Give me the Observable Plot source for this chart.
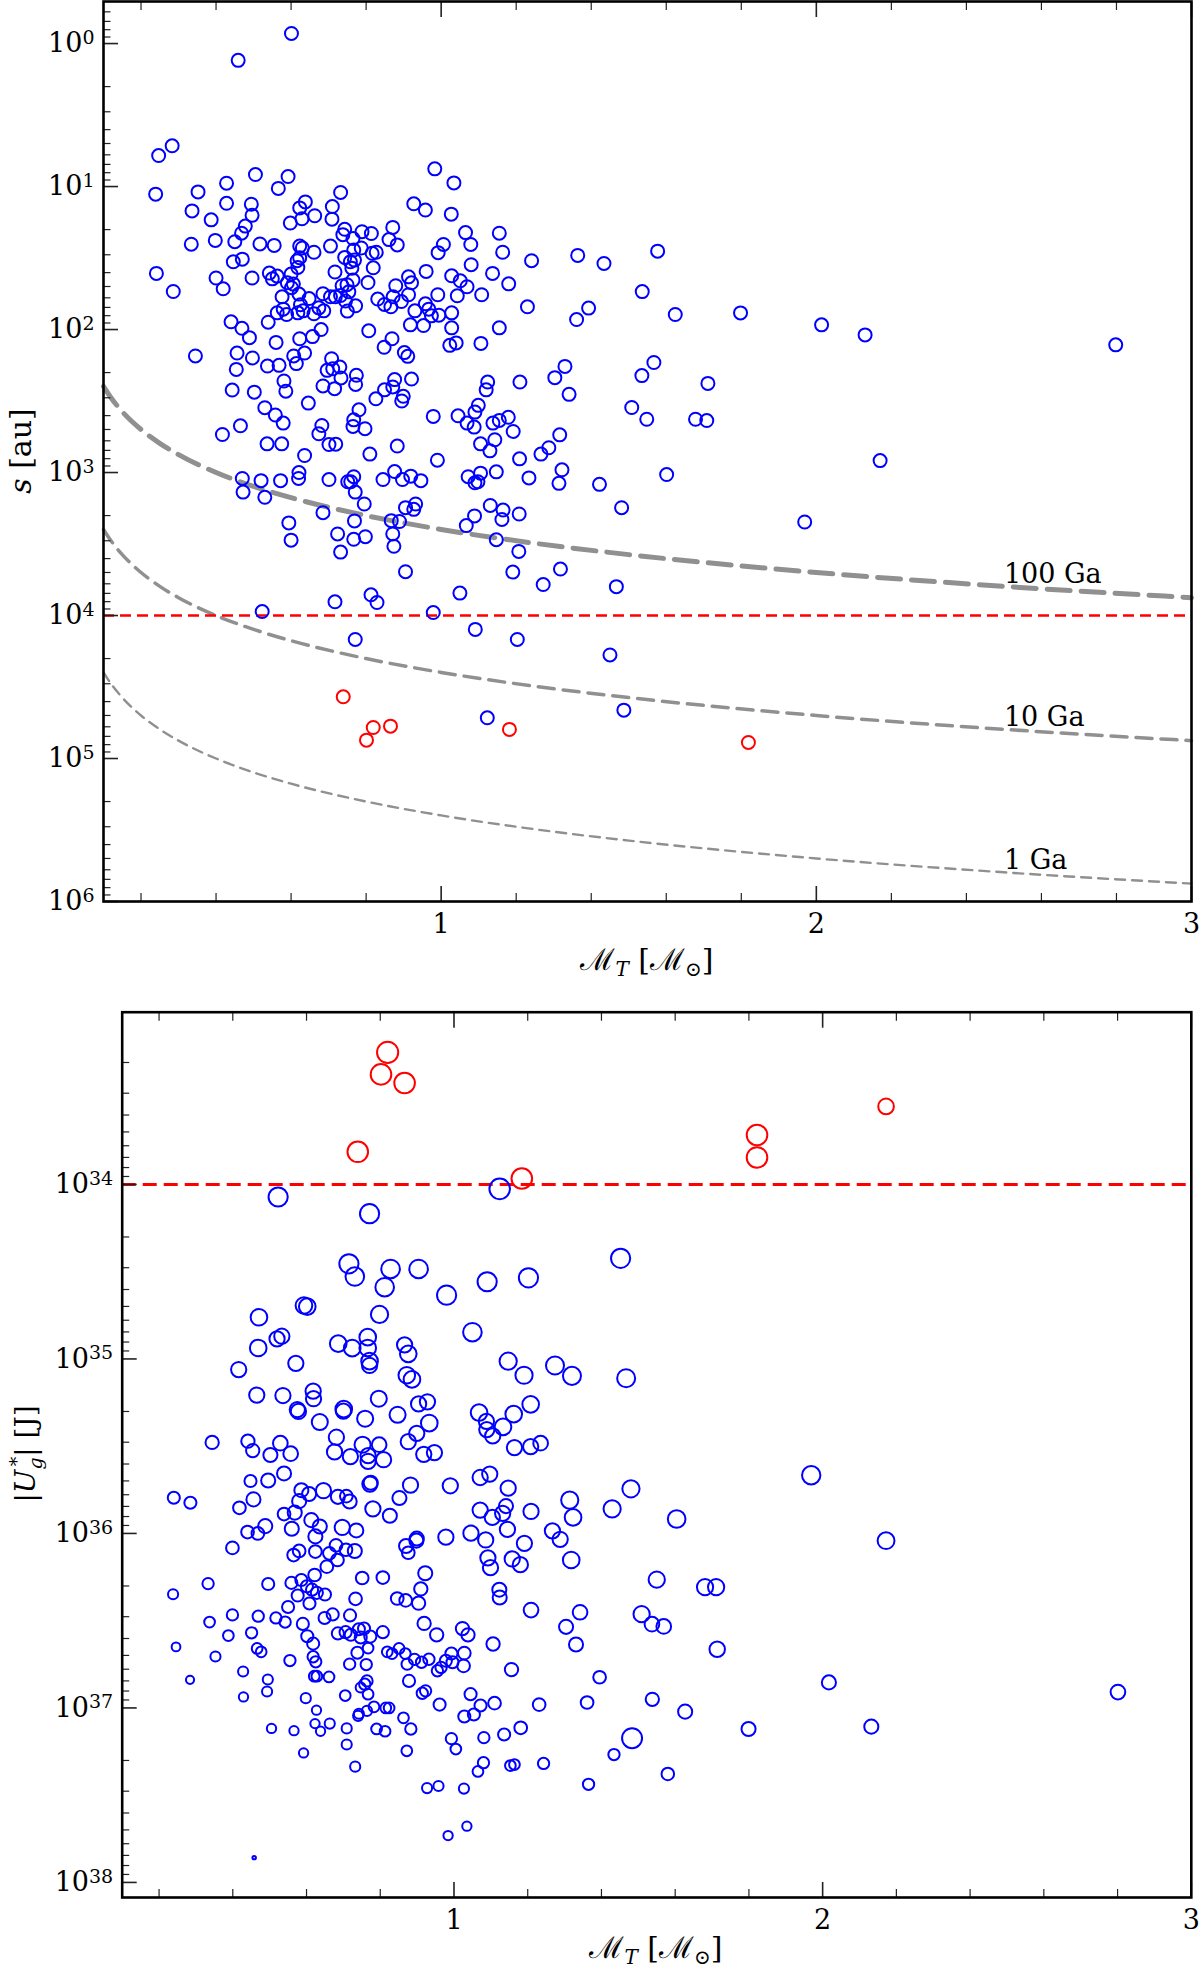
<!DOCTYPE html>
<html>
<head>
<meta charset="utf-8">
<script src="https://cdn.jsdelivr.net/npm/d3@7"></script>
<script src="https://cdn.jsdelivr.net/npm/@observablehq/plot@0.6"></script>
<style>
  body { margin: 0; background: white; width: 1200px; }
  #top, #bottom { width: 1200px; }
</style>
</head>
<body>
<div id="top"></div>
<div id="bottom"></div>
<script>
// ---- top panel: projected separation vs total mass ----
const topBlueMass = [
  0.601,0.459,0.283,0.247,0.239,0.505,0.592,0.983,1.034,0.428,
  0.566,0.352,0.732,0.428,0.494,0.638,0.623,0.927,0.958,0.710,
  0.336,0.496,0.663,1.027,0.387,0.598,0.629,0.709,0.478,0.468,
  0.743,0.738,0.789,0.814,0.871,0.861,0.883,1.065,1.155,0.334,
  0.398,0.450,0.517,0.555,0.623,0.630,0.705,0.765,1.006,0.992,
  1.079,1.164,0.661,0.743,0.767,0.787,0.816,0.827,0.446,0.470,
  0.623,0.616,0.758,0.769,1.241,1.364,1.434,0.618,0.762,0.819,
  1.080,0.241,0.400,0.496,0.542,0.550,0.563,0.600,0.717,0.960,
  1.028,1.051,1.137,1.180,0.419,0.286,0.590,0.606,0.601,0.736,
  0.749,0.765,0.805,0.879,0.913,0.921,1.069,0.576,0.621,0.648,
  0.685,0.705,0.718,0.732,0.754,0.831,0.872,0.894,0.913,0.991,
  1.043,1.108,1.230,1.393,0.579,0.563,0.588,0.625,0.618,0.632,
  0.661,0.674,0.687,0.745,0.750,0.772,0.849,0.866,0.930,0.958,
  0.967,0.974,0.994,1.028,1.361,0.440,0.539,0.469,0.489,0.680,
  0.657,0.623,0.807,0.918,0.953,1.028,1.155,0.560,0.869,0.848,
  1.023,1.040,1.106,0.345,0.456,0.497,0.607,0.636,0.614,0.708,
  0.537,0.568,0.696,0.711,0.730,0.902,0.911,1.330,0.454,0.733,
  0.774,0.581,0.876,0.921,1.124,1.210,1.303,0.772,0.586,0.685,
  0.716,0.871,0.849,1.120,0.443,0.502,1.341,0.899,0.895,0.826,
  0.646,0.530,0.781,0.558,0.579,0.767,0.765,0.797,0.682,0.674,
  0.465,0.417,0.979,1.045,1.069,1.088,1.099,1.090,1.138,1.155,
  1.179,1.192,1.316,0.536,0.575,0.701,0.719,0.883,0.810,0.636,
  1.105,1.143,1.130,1.287,1.266,0.990,1.209,0.470,0.520,0.572,
  0.621,0.620,0.472,0.530,0.701,0.751,0.767,0.759,0.771,0.845,
  0.876,0.897,0.919,0.946,1.072,1.090,1.105,1.098,1.147,1.234,
  1.314,1.322,1.422,0.795,0.685,0.905,0.927,0.932,1.131,1.165,
  1.162,1.089,1.067,1.208,0.594,0.600,0.769,0.867,0.889,0.871,
  0.874,0.724,0.767,0.798,0.732,1.147,1.207,0.905,1.191,1.318,
  1.272,1.050,0.717,0.813,0.829,0.523,0.979,1.091,0.771,1.203,
  1.577,1.536,1.624,1.798,2.014,2.130,2.798,1.567,1.535,1.711,
  1.508,1.548,1.678,1.708,1.601,2.170,1.481,1.969,1.467,1.450,1.487,
  1.123
];
const topBlueSep = [
  0.85,1.31,5.19,6.07,11.3,8.24,8.51,7.52,9.43,9.48,
  10.3,10.9,11.0,13.1,13.3,12.8,14.1,13.2,14.6,13.8,
  14.8,15.9,16.0,15.6,17.1,18.0,16.8,16.9,18.9,21.2,
  19.9,21.7,20.7,21.3,19.3,23.5,25.6,21.0,21.2,25.3,
  23.8,24.3,25.2,25.8,26.1,26.9,26.1,23.1,25.4,29.0,
  25.4,28.8,28.8,31.3,27.8,26.9,29.3,28.8,33.6,32.2,
  31.5,33.0,33.6,32.7,33.0,30.3,34.5,36.8,37.2,37.0,
  35.2,40.5,43.6,43.6,40.3,44.2,42.3,40.9,39.6,39.2,
  42.1,45.6,40.5,47.9,51.9,54.2,47.1,48.1,51.0,49.4,
  48.6,45.1,46.9,49.4,42.8,47.1,50.2,59.0,56.5,60.7,
  56.2,59.0,59.0,57.8,54.5,61.2,59.0,63.7,57.1,57.1,
  58.1,57.1,69.3,70.8,72.0,76.4,78.5,67.1,76.4,74.0,
  77.6,70.5,74.0,63.2,74.3,68.2,66.8,69.3,74.0,66.1,
  72.0,80.2,79.4,76.4,85.1,88.3,88.9,98,114,100,
  112,116,102,92.7,93.8,97.3,97.3,123,116,133,
  129,124,125,153,146,158,153,146,173,160,
  180,178,193,188,183,145,154,181,190,218,
  209,229,224,222,233,233,217,242,270,248,
  259,252,264,264,265,274,284,293,316,305,
  327,352,364,396,451,428,476,494,469,536,
  471,542,405,401,451,481,339,378,451,432,
  411,516,545,630,630,637,633,653,743,760,
  630,590,705,671,743,820,802,1100,1140,1140,
  1000,1100,1370,1490,1120,1160,1070,1160,1370,1120,
  984,1120,1060,1140,1070,1180,1010,1160,989,1090,
  1190,957,1210,1660,1910,1760,1810,1660,1700,1830,
  2130,2010,2350,1950,2250,2970,2180,2170,2200,2690,
  3280,2690,2930,2810,3600,2950,3560,4940,4970,4730,
  6070,6970,8020,7160,8110,9380,9530,12500,14700,14700,
  28.3,54.3,78.5,76.5,92.7,109,128,170,210,238,
  351,424,424,433,1033,825,1762,2218,6280,18880,45900,
  51900
];
const topRedMass = [0.739, 0.801, 0.819, 0.865, 1.182, 1.819];
const topRedSep = [37000, 74400, 60700, 59400, 62600, 77200];

// dissipation-time curves
const curveMass = [0.1, 0.12, 0.15, 0.2, 0.25, 0.3, 0.4, 0.5, 0.6, 0.8, 1, 1.25, 1.5, 2, 2.5, 3];
const sep100Ga = [250, 300, 375, 500, 625, 750, 1000, 1250, 1500, 2000, 2500, 3125, 3750, 5000, 6250, 7500];
const sep10Ga = [2500, 3000, 3750, 5000, 6250, 7500, 10000, 12500, 15000, 20000, 25000, 31250, 37500, 50000, 62500, 75000];
const sep1Ga = [25000, 30000, 37500, 50000, 62500, 75000, 100000, 125000, 150000, 200000, 250000, 312500, 375000, 500000, 625000, 750000];
const gaLabels = ["100 Ga", "10 Ga", "1 Ga"];
const gaLabelMass = [2.5, 2.5, 2.5];
const gaLabelSep = [5900, 59000, 590000];
const sepLimit = 1e4;

// ---- bottom panel: binding energy vs total mass ----
const botBlueMass = [
  0.523,1.124,0.771,0.715,0.731,0.828,0.904,0.812,0.980,1.090,
  1.202,1.452,0.593,0.602,0.471,0.798,0.520,0.533,0.469,1.050,
  0.686,0.724,0.766,0.766,0.866,0.876,0.771,0.771,0.571,0.416,
  1.147,1.190,1.274,1.320,1.467,0.872,0.886,0.465,0.536,0.618,
  0.619,0.575,0.578,0.701,0.700,0.796,0.759,0.636,0.847,0.904,
  0.928,0.933,1.068,1.088,1.089,1.105,1.133,1.162,1.208,0.344,
  0.441,0.454,0.502,0.529,0.557,0.681,0.676,0.719,0.752,0.767,
  0.767,0.797,0.809,0.876,0.899,0.918,0.947,1.164,1.208,1.235,
  0.240,0.285,0.448,0.496,0.539,0.456,0.418,0.586,0.607,0.580,
  0.646,0.685,0.708,0.717,0.772,0.774,0.882,0.852,0.780,0.826,
  0.990,1.071,1.097,1.147,1.071,1.104,1.132,1.141,1.209,1.314,
  1.323,1.429,1.480,0.539,0.568,0.560,0.613,0.636,0.624,0.488,
  0.440,0.468,0.697,0.735,1.145,1.046,0.978,1.086,0.399,0.565,
  0.580,0.624,0.662,0.680,0.707,0.731,0.684,0.655,0.870,0.876,
  0.898,0.899,1.191,1.267,1.288,1.092,1.099,1.158,1.180,1.318,
  0.622,0.751,0.807,0.922,0.333,0.496,0.559,0.586,0.601,0.615,
  0.628,0.650,0.576,0.608,0.238,0.733,0.846,0.869,0.910,0.904,
  1.123,1.124,1.209,1.342,0.399,0.337,0.469,0.517,0.542,0.550,
  0.649,0.671,0.718,0.590,0.388,0.451,0.602,0.618,0.685,0.706,
  0.720,0.742,0.756,0.747,0.773,0.807,0.919,0.953,1.023,1.038,
  1.106,1.304,1.331,0.246,0.353,0.466,0.477,0.555,0.618,0.625,
  0.738,0.767,0.819,0.832,0.851,0.868,0.873,0.893,0.912,0.932,
  0.955,0.965,0.978,0.993,0.996,1.028,1.026,1.156,1.395,0.717,
  0.762,0.428,0.621,0.628,0.661,0.495,0.284,0.764,0.758,0.747,
  0.767,0.878,0.914,0.923,0.493,0.429,0.598,0.705,0.961,1.045,
  1.110,1.072,1.231,1.361,0.627,0.740,0.742,0.764,0.783,0.815,
  0.824,0.863,1.028,1.054,0.505,0.566,0.623,0.638,0.663,0.709,
  0.790,0.813,0.883,0.993,1.005,1.081,1.136,1.181,1.483,0.592,
  0.709,0.872,0.732,1.080,1.065,1.153,1.164,1.243,1.434,0.927,
  0.958,1.027,1.365,1.035,0.984,0.458,
  1.969,1.604,2.172,1.550,1.681,1.711,1.509,1.537,1.569,1.714,
  2.017,2.801,1.538,1.627,1.799,2.132,1.580
];
const botBlueU = [
  1.18e34,1.06e34,1.47e34,2.85e34,3.37e34,3.05e34,3.05e34,3.88e34,4.31e34,3.61e34,
  3.43e34,2.65e34,4.94e34,5.01e34,5.77e34,5.56e34,7.67e34,7.41e34,8.65e34,7.03e34,
  8.17e34,8.67e34,7.50e34,8.65e34,8.30e34,9.35e34,1.03e35,1.09e35,1.06e35,1.15e35,
  1.03e35,1.24e35,1.09e35,1.25e35,1.29e35,1.24e35,1.31e35,1.61e35,1.62e35,1.53e35,
  1.69e35,1.95e35,2.00e35,1.94e35,1.99e35,1.69e35,2.20e35,2.30e35,2.09e35,1.81e35,
  1.76e35,2.33e35,2.03e35,2.28e35,2.54e35,2.76e35,2.45e35,2.07e35,1.82e35,3.01e35,
  2.96e35,3.35e35,3.55e35,3.04e35,3.49e35,2.81e35,3.41e35,3.63e35,3.10e35,3.58e35,
  3.86e35,3.10e35,3.78e35,2.98e35,2.67e35,3.52e35,3.44e35,3.22e35,3.18e35,3.04e35,
  6.24e35,6.67e35,5.01e35,4.97e35,4.53e35,6.38e35,7.13e35,5.65e35,5.94e35,6.53e35,
  5.69e35,6.17e35,6.11e35,6.56e35,5.21e35,5.12e35,5.28e35,6.27e35,7.23e35,7.92e35,
  5.33e35,4.78e35,4.57e35,5.50e35,7.35e35,8.09e35,7.67e35,6.97e35,7.48e35,6.44e35,
  8.09e35,7.23e35,5.55e35,7.74e35,7.60e35,9.40e35,8.39e35,9.12e35,1.04e36,9.08e35,
  9.82e35,1.00e36,9.24e35,9.61e35,9.48e35,9.96e35,1.05e36,1.09e36,1.21e36,1.33e36,
  1.26e36,1.27e36,1.30e36,1.17e36,1.24e36,1.26e36,1.42e36,1.55e36,1.18e36,1.29e36,
  1.10e36,1.07e36,1.14e36,9.66e35,1.08e36,1.38e36,1.57e36,1.40e36,1.51e36,1.42e36,
  1.73e36,1.80e36,1.79e36,1.69e36,1.94e36,1.95e36,1.92e36,1.85e36,2.01e36,2.10e36,
  2.19e36,2.24e36,2.27e36,2.52e36,2.23e36,2.37e36,2.36e36,2.42e36,2.08e36,2.51e36,
  2.10e36,2.33e36,2.75e36,2.83e36,2.93e36,3.22e36,2.98e36,3.05e36,3.22e36,2.64e36,
  3.05e36,2.91e36,2.95e36,3.30e36,3.85e36,3.71e36,3.88e36,4.28e36,3.74e36,3.68e36,
  3.81e36,3.54e36,3.51e36,3.95e36,3.90e36,3.68e36,3.28e36,3.81e36,3.51e36,3.81e36,
  4.30e36,3.43e36,4.33e36,4.47e36,5.07e36,4.56e36,4.77e36,5.35e36,5.09e36,5.44e36,
  4.83e36,4.54e36,4.77e36,4.88e36,4.56e36,4.88e36,5.61e36,5.27e36,5.47e36,5.26e36,
  6.12e36,5.86e36,5.37e36,4.88e36,5.47e36,4.85e36,5.74e36,6.03e36,6.67e36,5.61e36,
  5.64e36,6.18e36,6.58e36,6.58e36,6.64e36,6.87e36,6.90e36,7.00e36,7.31e36,7.64e36,
  8.34e36,7.00e36,8.24e36,7.98e36,8.05e36,8.65e36,8.79e36,8.49e36,9.57e36,8.34e36,
  9.39e36,9.68e36,9.57e36,9.31e36,1.03e37,1.11e37,1.08e37,1.04e37,9.86e36,1.00e37,
  1.00e37,1.14e37,1.12e37,1.09e37,1.31e37,1.35e37,1.23e37,1.36e37,1.23e37,1.31e37,
  1.32e37,1.36e37,1.32e37,1.50e37,1.72e37,1.48e37,1.42e37,1.30e37,1.49e37,1.81e37,
  1.62e37,1.76e37,2.17e37,2.06e37,2.31e37,2.14e37,2.11e37,2.08e37,1.85e37,2.88e37,
  2.80e37,2.90e37,2.74e37,4.76e37,5.39e37,7.21e37,
  4.64e35,8.26e35,1.10e36,1.84e36,2.03e36,2.03e36,2.90e36,3.31e36,3.41e36,4.61e36,
  7.14e36,8.11e36,8.93e36,1.05e37,1.32e37,1.28e37,2.39e37
];
// separation (au) each circle's size stands for, estimated from the circle sizes
const botBlueSep = [
  19000,50000,19000,19000,13000,13000,13000,13000,19000,19000,
  19000,19000,3400,3400,3400,5000,1300,1300,3400,13000,
  3400,3400,3400,3400,1300,3400,3400,1300,1300,1300,
  5000,5000,8700,8700,8700,3400,3400,1300,1300,1300,
  1300,1300,1300,3400,1300,2250,2250,2250,2250,1300,
  1300,3400,3400,1300,1300,1300,3400,3400,3400,340,
  340,340,580,870,870,1300,1300,1300,2250,1300,
  1300,870,1300,1300,1300,1300,1300,1300,1300,870,
  150,150,150,580,580,580,225,580,580,580,
  1300,580,225,580,1300,580,1300,580,1300,580,
  1300,1300,1300,1300,1300,1300,1300,580,1300,5000,
  3400,5000,5000,225,580,580,580,580,580,580,
  225,225,1300,580,1300,1300,1300,1300,225,225,
  225,225,225,225,225,580,225,225,580,225,
  580,580,1300,1300,1300,1300,1300,1300,1300,3400,
  225,225,225,580,87,150,150,150,150,150,
  150,150,150,150,39,225,225,225,340,340,
  580,580,870,870,87,58,87,87,87,150,
  150,150,150,150,58,87,150,150,150,150,
  150,150,150,150,150,150,340,340,340,340,
  340,580,580,15,39,58,58,87,87,87,
  150,58,58,58,58,58,87,87,87,87,
  87,87,150,150,150,225,225,340,225,87,
  87,39,58,58,58,39,10,87,87,39,
  58,150,87,87,39,22,39,58,150,150,
  225,150,225,225,22,39,39,39,58,58,
  58,58,150,150,22,22,22,22,39,39,
  58,58,87,87,58,87,150,225,33000,22,
  39,58,39,87,58,58,58,87,87,39,
  39,39,87,22,22,0.4,
  11000,6700,3900,2600,2600,2600,2600,870,870,1500,
  580,870,340,580,580,580,200
];
const botRedMass = [0.820, 0.802, 0.866, 0.739, 1.184, 2.172, 1.822, 1.822];
const botRedU = [1.75e33, 2.34e33, 2.62e33, 6.50e33, 9.25e33, 3.57e33, 5.21e33, 7.0e33];
const botRedSep = [75000, 50000, 50000, 50000, 50000, 1700, 50000, 50000];
const energyLimit = 1e34;

// ---- ticks ----
const xMajor = [1, 2, 3];
const xMinor = [0.2, 0.4, 0.6, 0.8, 1.2, 1.4, 1.6, 1.8, 2.2, 2.4, 2.6, 2.8];
const topYMajor = [1, 10, 100, 1e3, 1e4, 1e5, 1e6];
const topYExp = ["0", "1", "2", "3", "4", "5", "6"];
const botYMajor = [1e34, 1e35, 1e36, 1e37, 1e38];
const botYExp = ["34", "35", "36", "37", "38"];

function minorLog(lo, hi) {
  const out = [];
  for (let e = Math.floor(Math.log10(lo)); e <= Math.ceil(Math.log10(hi)); e++) {
    for (let k = 2; k <= 9; k++) {
      const v = k * Math.pow(10, e);
      if (v >= lo && v <= hi) out.push(v);
    }
  }
  return out;
}

const topBlue = topBlueMass.map((m, i) => ({mass: m, sep: topBlueSep[i]}));
const topRed = topRedMass.map((m, i) => ({mass: m, sep: topRedSep[i]}));
const curves = curveMass.map((m, i) => ({mass: m, s100: sep100Ga[i], s10: sep10Ga[i], s1: sep1Ga[i]}));
const gaText = gaLabels.map((t, i) => ({text: t, mass: gaLabelMass[i], sep: gaLabelSep[i]}));
const botBlue = botBlueMass.map((m, i) => ({mass: m, u: botBlueU[i], sep: botBlueSep[i]}));
const botRed = botRedMass.map((m, i) => ({mass: m, u: botRedU[i], sep: botRedSep[i]}));

const FONT = "'DejaVu Serif', 'Liberation Serif', serif";
const GRAY = "#909090";

function axes(yMajor, yExp, yMinor) {
  const tick = {stroke: "#222", label: null, fill: "none"};
  // log tick formats get called with the value only, so look the label up by value
  const labelOf = new Map(yMajor.map((v, i) => [v, "10^" + yExp[i]]));
  return [
    Plot.axisY(yMajor, {...tick, anchor: "left", tickSize: 15, dx: 15, strokeWidth: 1.6}),
    Plot.axisY(yMinor, {...tick, anchor: "left", tickSize: 7.5, dx: 7.5, strokeWidth: 1.2}),
    Plot.axisY(yMajor, {anchor: "left", tickSize: 0, tickPadding: 9, label: null,
      tickFormat: d => labelOf.get(d) ?? "", fontSize: 27, fill: "black"}),
    Plot.axisX(xMajor, {...tick, anchor: "bottom", tickSize: 15, dy: -15, strokeWidth: 1.6}),
    Plot.axisX(xMinor, {...tick, anchor: "bottom", tickSize: 8, dy: -8, strokeWidth: 1.2}),
    Plot.axisX(xMajor, {...tick, anchor: "top", tickSize: 15, dy: 15, strokeWidth: 1.6}),
    Plot.axisX(xMinor, {...tick, anchor: "top", tickSize: 8, dy: 8, strokeWidth: 1.2}),
    Plot.axisX(xMajor, {anchor: "bottom", tickSize: 0, tickPadding: 12, label: null,
      tickFormat: d => String(d), fontSize: 27, fill: "black"})
  ];
}

// turn "10^n" tick texts into 10 with a raised exponent
function superscriptTicks(svg) {
  d3.select(svg).selectAll("text").each(function() {
    const m = /^10\^(\d+)$/.exec(this.textContent);
    if (!m) return;
    const t = d3.select(this).text(null);
    t.append("tspan").text("10");
    t.append("tspan").attr("dy", "-0.45em").attr("font-size", 19).text(m[1]);
  });
}

// top chart
const topDomain = [0.508, 1e6];
const topPlot = Plot.plot({
  width: 1200, height: 1000,
  marginTop: 1, marginRight: 9, marginBottom: 99, marginLeft: 103,
  style: {fontFamily: FONT, color: "black", background: "white"},
  x: {domain: [0.1, 3]},
  y: {type: "log", domain: topDomain, reverse: true},
  marks: [
    Plot.line(curves, {x: "mass", y: "s100", stroke: GRAY, strokeWidth: 5, strokeDasharray: "23,11", curve: "monotone-x"}),
    Plot.line(curves, {x: "mass", y: "s10", stroke: GRAY, strokeWidth: 3.5, strokeDasharray: "16,9", curve: "monotone-x"}),
    Plot.line(curves, {x: "mass", y: "s1", stroke: GRAY, strokeWidth: 2.4, strokeDasharray: "10,7", curve: "monotone-x"}),
    Plot.ruleY([sepLimit], {stroke: "#ff0000", strokeWidth: 2.5, strokeDasharray: "11,6"}),
    Plot.text(gaText, {x: "mass", y: "sep", text: "text", textAnchor: "start", lineAnchor: "bottom", fontSize: 27, fill: "black"}),
    Plot.dot(topBlue, {x: "mass", y: "sep", r: 6.5, stroke: "#0000ff", strokeWidth: 2, fill: "none"}),
    Plot.dot(topRed, {x: "mass", y: "sep", r: 6.5, stroke: "#ff0000", strokeWidth: 2, fill: "none"}),
    ...axes(topYMajor, topYExp, minorLog(topDomain[0], topDomain[1])),
    Plot.frame({stroke: "black", strokeWidth: 2.6})
  ]
});
superscriptTicks(topPlot);
document.getElementById("top").append(topPlot);

// bottom chart
const botDomain = [1.03e33, 1.22e38];
const botPlot = Plot.plot({
  width: 1200, height: 976,
  marginTop: 11.7, marginRight: 9.2, marginBottom: 79, marginLeft: 121.7,
  style: {fontFamily: FONT, color: "black", background: "white"},
  x: {domain: [0.1, 3]},
  y: {type: "log", domain: botDomain, reverse: true},
  r: {type: "log", domain: [1, 1e5], range: [2.4, 10.8]},
  marks: [
    Plot.ruleY([energyLimit], {stroke: "#ff0000", strokeWidth: 3, strokeDasharray: "14,7"}),
    Plot.dot(botBlue, {x: "mass", y: "u", r: "sep", stroke: "#0000ff", strokeWidth: 2, fill: "none"}),
    Plot.dot(botRed, {x: "mass", y: "u", r: "sep", stroke: "#ff0000", strokeWidth: 2, fill: "none"}),
    ...axes(botYMajor, botYExp, minorLog(botDomain[0], botDomain[1])),
    Plot.frame({stroke: "black", strokeWidth: 2.6})
  ]
});
superscriptTicks(botPlot);
document.getElementById("bottom").append(botPlot);

// axis titles with italics, sub- and superscripts
function massLabel(svg, cx, y) {
  const t = d3.select(svg).append("text")
    .attr("x", cx).attr("y", y).attr("text-anchor", "middle")
    .attr("font-family", FONT).attr("font-size", 30).attr("fill", "black");
  t.append("tspan").text("ℳ");
  t.append("tspan").attr("font-size", 20).attr("font-style", "italic").attr("dy", 6).text("T");
  t.append("tspan").attr("dy", -6).text(" [ℳ");
  t.append("tspan").attr("font-size", 20).attr("dy", 6).text("⊙");
  t.append("tspan").attr("dy", -6).text("]");
}
massLabel(topPlot, 647, 970);
massLabel(botPlot, 656, 958);

{
  const t = d3.select(topPlot).append("text")
    .attr("transform", "translate(31,451) rotate(-90)").attr("text-anchor", "middle")
    .attr("font-family", FONT).attr("font-size", 30).attr("fill", "black");
  t.append("tspan").attr("font-style", "italic").text("s");
  t.append("tspan").text(" [au]");
}
{
  const t = d3.select(botPlot).append("text")
    .attr("transform", "translate(35,454) rotate(-90)").attr("text-anchor", "middle")
    .attr("font-family", FONT).attr("font-size", 28).attr("fill", "black");
  t.append("tspan").text("|");
  t.append("tspan").attr("font-style", "italic").text("U");
  t.append("tspan").attr("font-size", 19).attr("font-style", "italic").attr("dy", 7).text("g");
  t.append("tspan").attr("font-size", 19).attr("dx", -9).attr("dy", -19).text("*");
  t.append("tspan").attr("dy", 12).text("| [J]");
}
</script>
</body>
</html>
